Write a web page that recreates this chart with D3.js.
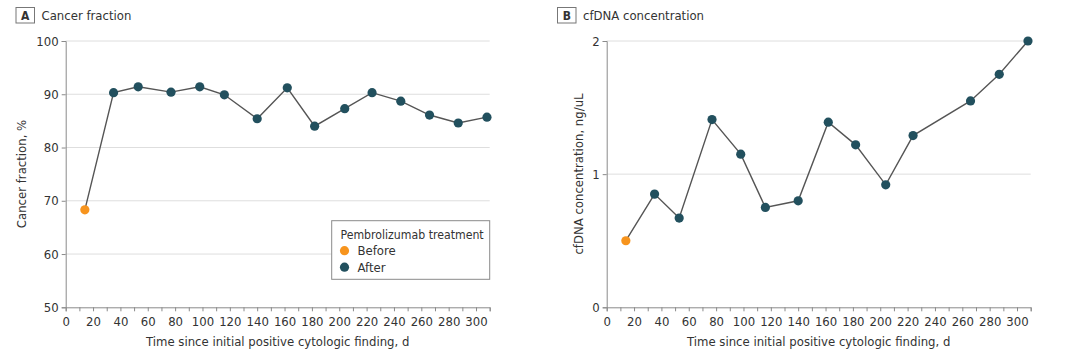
<!DOCTYPE html>
<html>
<head>
<meta charset="utf-8">
<script src="https://cdn.jsdelivr.net/npm/d3@7"></script>
<style>
  html, body { margin: 0; padding: 0; background: #fff; }
  svg text { font-family: "Liberation Sans Narrow", "DejaVu Sans Condensed", "Arial Narrow", sans-serif; fill: #333; }
</style>
</head>
<body>
<svg id="chart" width="1080" height="356"></svg>
<script>
// ---- Data ----
const daysA = [14, 35, 53, 77, 98, 116, 140, 162, 182, 204, 224, 245, 266, 287, 308];
const cancerFraction = [68.3, 90.3, 91.4, 90.4, 91.4, 89.9, 85.4, 91.2, 84.0, 87.3, 90.3, 88.7, 86.1, 84.6, 85.7];
const daysB = [14, 35, 53, 77, 98, 116, 140, 162, 182, 204, 224, 266, 287, 308];
const cfdnaConc = [0.50, 0.85, 0.67, 1.41, 1.15, 0.75, 0.80, 1.39, 1.22, 0.92, 1.29, 1.55, 1.75, 2.0];
const phaseA = ["Before", "After", "After", "After", "After", "After", "After", "After", "After", "After", "After", "After", "After", "After", "After"];
const phaseB = ["Before", "After", "After", "After", "After", "After", "After", "After", "After", "After", "After", "After", "After", "After"];
const xTicks = d3.range(0, 301, 20);
const xMinorTicks = d3.range(0, 311, 10);
const yTicksA = [50, 60, 70, 80, 90, 100];
const yTicksB = [0, 1, 2];
const legendLabels = ["Before", "After"];
const legendTitle = "Pembrolizumab treatment";

const colors = { Before: "#f7941d", After: "#22505e" };
const svg = d3.select("#chart");

function panel(opts) {
  const g = svg.append("g");
  const x = d3.scaleLinear().domain([0, 310]).range([opts.left, opts.left + 424]);
  const y = d3.scaleLinear().domain(opts.yDomain).range([307.3, 41]);

  // panel letter box + title
  g.append("rect").attr("x", opts.boxX).attr("y", 7.5).attr("width", 18.5).attr("height", 15.5)
    .attr("fill", "#fff").attr("stroke", "#777").attr("stroke-width", 1);
  g.append("text").attr("x", opts.boxX + 9.25).attr("y", 19.5).attr("text-anchor", "middle")
    .style("font-size", "12px").style("font-weight", "bold").text(opts.letter);
  g.append("text").attr("x", opts.boxX + 25.5).attr("y", 19.5)
    .style("font-size", "13px").text(opts.title);

  // gridlines
  g.append("g").selectAll("line").data(opts.yTicks.filter(d => d !== opts.yDomain[0])).join("line")
    .attr("x1", x(0)).attr("x2", x(310)).attr("y1", d => y(d)).attr("y2", d => y(d))
    .attr("stroke", "#dedede").attr("stroke-width", 1);

  // y axis
  const yAxis = g.append("g").attr("transform", `translate(${x(0)},0)`)
    .call(d3.axisLeft(y).tickValues(opts.yTicks).tickSize(4).tickPadding(3).tickFormat(d3.format("d")));
  yAxis.select(".domain").attr("stroke", "#8a8a8a");
  yAxis.selectAll(".tick line").attr("stroke", "#8a8a8a");
  yAxis.selectAll("text").style("font-size", "13px").attr("fill", "#333");

  // x axis minor ticks
  const xMinor = g.append("g").attr("transform", `translate(0,${y(opts.yDomain[0])})`)
    .call(d3.axisBottom(x).tickValues(xMinorTicks).tickSize(4).tickFormat(""));
  xMinor.select(".domain").attr("stroke", "#8a8a8a");
  xMinor.selectAll(".tick line").attr("stroke", "#8a8a8a");
  const xAxis = g.append("g").attr("transform", `translate(0,${y(opts.yDomain[0])})`)
    .call(d3.axisBottom(x).tickValues(xTicks).tickSize(0).tickPadding(9));
  xAxis.select(".domain").remove();
  xAxis.selectAll("text").style("font-size", "13px").attr("fill", "#333");

  // axis titles
  g.append("text").attr("x", (x(0) + x(310)) / 2).attr("y", 346).attr("text-anchor", "middle")
    .style("font-size", "13px").text("Time since initial positive cytologic finding, d");
  g.append("text").attr("transform", `translate(${opts.yTitleX},174) rotate(-90)`).attr("text-anchor", "middle")
    .style("font-size", "13px").text(opts.yTitle);

  // line and points
  const pts = opts.days.map((d, i) => ({ d, v: opts.values[i], p: opts.phase[i] }));
  g.append("path").datum(pts)
    .attr("d", d3.line().x(p => x(p.d)).y(p => y(p.v)))
    .attr("fill", "none").attr("stroke", "#555").attr("stroke-width", 1.4);
  g.append("g").selectAll("circle").data(pts).join("circle")
    .attr("cx", p => x(p.d)).attr("cy", p => y(p.v)).attr("r", 4.6)
    .attr("fill", p => colors[p.p]);
  return { g, x, y };
}

panel({ left: 65.7, yDomain: [50, 100], yTicks: yTicksA, days: daysA, values: cancerFraction, phase: phaseA,
  letter: "A", title: "Cancer fraction", boxX: 16, yTitle: "Cancer fraction, %", yTitleX: 26 });
panel({ left: 606.7, yDomain: [0, 2], yTicks: yTicksB, days: daysB, values: cfdnaConc, phase: phaseB,
  letter: "B", title: "cfDNA concentration", boxX: 557.5, yTitle: "cfDNA concentration, ng/uL", yTitleX: 583 });

// legend (panel A)
const lg = svg.append("g");
lg.append("rect").attr("x", 331.7).attr("y", 220.7).attr("width", 158).attr("height", 58.6)
  .attr("fill", "#fff").attr("stroke", "#8a8a8a").attr("stroke-width", 1);
lg.append("text").attr("x", 340.5).attr("y", 238.5).style("font-size", "12.2px").text(legendTitle);
legendLabels.forEach((lab, i) => {
  lg.append("circle").attr("cx", 344.5).attr("cy", 250.7 + i * 16.5).attr("r", 4.6).attr("fill", colors[lab]);
  lg.append("text").attr("x", 357.5).attr("y", 255.3 + i * 16.5).style("font-size", "13px").text(lab);
});
</script>
</body>
</html>
